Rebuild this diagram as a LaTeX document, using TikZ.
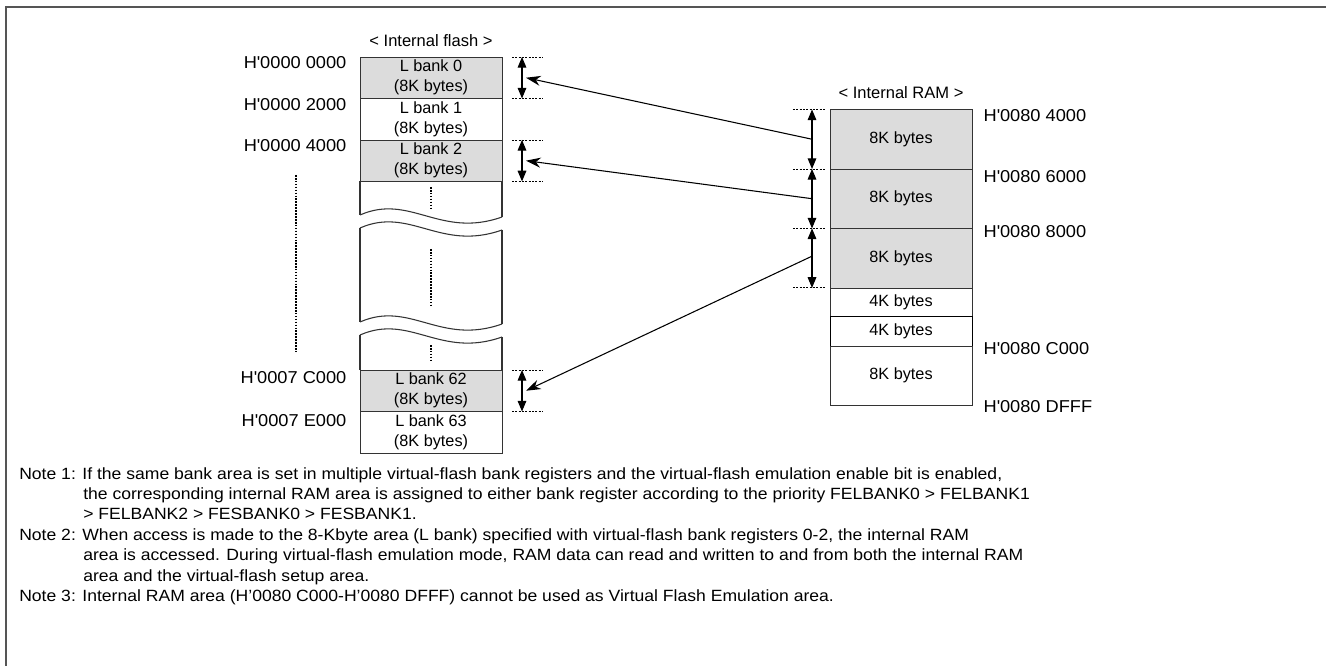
\documentclass[tikz,border=0pt]{standalone}
\usepackage{fontspec}
\setmainfont{Liberation Sans}
\newfontfamily\notefont[FakeStretch=1.08]{Liberation Sans}
\newfontfamily\addrfamily[FakeStretch=1.06]{Liberation Sans}
\usepackage{tikz}
\usetikzlibrary{arrows.meta, positioning, calc}
\definecolor{bankgray}{HTML}{DCDCDC}
\definecolor{framegray}{HTML}{555555}
\newcommand{\hq}{\textquotesingle}
\newcommand{\labelfont}{\fontsize{12.2}{15}\selectfont}
\newcommand{\addrfont}{\addrfamily\fontsize{12.9}{15}\selectfont}
\newcommand{\noteind}{\hspace*{48pt}}
\tikzset{
    bank/.style={rectangle, draw=black!80, fill=white, minimum width=106.5pt, minimum height=31.1pt, inner sep=0pt, outer sep=0pt, align=center, font=\labelfont},
    ramrow/.style={rectangle, draw=black!80, fill=white, minimum width=106.5pt, inner sep=0pt, outer sep=0pt, font=\labelfont},
    addr/.style={inner sep=0pt, font=\addrfont},
    head/.style={inner sep=0pt, font=\fontsize{12.4}{15}\selectfont},
    colline/.style={draw=black!80, line width=0.8pt},
    dots/.style={line width=1.2pt, dash pattern=on 1.2pt off 1pt},
    tick/.style={line width=0.6pt, dash pattern=on 1.5pt off 1pt},
    dim/.style={{Triangle[length=8pt,width=6.5pt]}-{Triangle[length=8pt,width=6.5pt]}, line width=0.8pt},
    maparrow/.style={-{Stealth[length=11pt,width=7.5pt]}, line width=0.8pt},
    note/.style={inner sep=0pt, align=left, font=\notefont\fontsize{12.2}{15.3}\selectfont},
    wave/.pic={\draw[colline] (0,0) .. controls (50,-22) and (80,24) .. (142,2);},
}

\begin{document}
\begin{tikzpicture}[x=0.75pt, y=-0.75pt]
    \useasboundingbox (0,0) rectangle (1326,666);
    \draw[framegray, line width=1.5pt] (6,666) -- (6,7) -- (1326,7);

    \node[bank, fill=bankgray, anchor=north] (b0) at (431,57) {L bank 0\\(8K bytes)};
    \node[bank, below=0pt of b0] (b1) {L bank 1\\(8K bytes)};
    \node[bank, fill=bankgray, below=0pt of b1] (b2) {L bank 2\\(8K bytes)};
    \node[bank, fill=bankgray, anchor=north] (b62) at (431,370) {L bank 62\\(8K bytes)};
    \node[bank, below=0pt of b62] (b63) {L bank 63\\(8K bytes)};
    \node[head, above=7.5pt of b0] (fhead) {< Internal flash >};

    \draw[colline] (b2.south west) -- ++(0,33.5) (b2.south east) -- ++(0,35.5);
    \pic at (360,215) {wave};
    \pic at (360,228) {wave};
    \draw[colline] (360,228) -- (360,322) (502,230) -- (502,324);
    \pic at (360,322) {wave};
    \pic at (360,335) {wave};
    \draw[colline] (360,335) -- (b62.north west) (502,337) -- (b62.north east);

    \draw[dots] (431,187) -- (431,209);
    \draw[dots] (431,249) -- (431,305);
    \draw[dots] (431,345) -- (431,362);
    \draw[dots] (296,175) -- (296,352);

    \node[addr, anchor=east] (a0) at ([xshift=-10pt, yshift=-4.5pt]b0.north west) {H\hq0000 0000};
    \node[addr, anchor=east] (a1) at ([xshift=-10pt, yshift=-4.5pt]b1.north west) {H\hq0000 2000};
    \node[addr, anchor=east] (a2) at ([xshift=-10pt, yshift=-4.5pt]b2.north west) {H\hq0000 4000};
    \node[addr, anchor=east] (a62) at ([xshift=-10pt, yshift=-6pt]b62.north west) {H\hq0007 C000};
    \node[addr, anchor=east] (a63) at ([xshift=-10pt, yshift=-7pt]b63.north west) {H\hq0007 E000};

    \foreach \b in {b0,b2,b62} {
        \draw[tick] ([xshift=7.5pt]\b.north east) -- ++(31,0);
        \draw[tick] ([xshift=7.5pt]\b.south east) -- ++(31,0);
        \draw[dim] ([xshift=15pt]\b.north east) -- ([xshift=15pt]\b.south east);
    }

    \node[ramrow, fill=bankgray, minimum height=44.6pt, anchor=north] (r1) at (901,109.5) {8K bytes};
    \node[ramrow, fill=bankgray, minimum height=44.6pt, below=0pt of r1] (r2) {8K bytes};
    \node[ramrow, fill=bankgray, minimum height=44.6pt, below=0pt of r2] (r3) {8K bytes};
    \node[ramrow, minimum height=21.4pt, below=0pt of r3] (r4) {4K bytes};
    \node[ramrow, draw=black, minimum height=22.5pt, below=0pt of r4] (r5) {4K bytes};
    \node[ramrow, minimum height=43.9pt, below=0pt of r5] (r6) {8K bytes};
    \node[head, above=8pt of r1] (rhead) {< Internal RAM >};

    \node[addr, anchor=west] (h1) at ([xshift=8.5pt, yshift=-4.5pt]r1.north east) {H\hq0080 4000};
    \node[addr, anchor=west] (h2) at ([xshift=8.5pt, yshift=-5.5pt]r2.north east) {H\hq0080 6000};
    \node[addr, anchor=west] (h3) at ([xshift=8.5pt, yshift=-2.5pt]r3.north east) {H\hq0080 8000};
    \node[addr, anchor=west] (h6) at ([xshift=8.5pt, yshift=-1.3pt]r6.north east) {H\hq0080 C000};
    \node[addr, anchor=west] (h7) at ([xshift=8.5pt, yshift=-1.3pt]r6.south east) {H\hq0080 DFFF};

    \foreach \r in {r1,r2,r3} {
        \draw[tick] ([xshift=-27.75pt]\r.north west) -- ++(32,0);
        \draw[dim] ([xshift=-13.5pt]\r.north west) -- ([xshift=-13.5pt]\r.south west);
    }
    \draw[tick] ([xshift=-27.75pt]r3.south west) -- ++(32,0);

    \draw[maparrow] ([xshift=-13.5pt]r1.west) -- ([xshift=18pt]b0.east);
    \draw[maparrow] ([xshift=-13.5pt]r2.west) -- ([xshift=18pt]b2.east);
    \draw[maparrow] ([xshift=-13.5pt,yshift=1.5pt]r3.west) -- ([xshift=18pt]b62.east);

    \node[note, anchor=north west] (notes) at (19,467) {Note 1: If the same bank area is set in multiple virtual-flash bank registers and the virtual-flash emulation enable bit is enabled,\\
        \noteind the corresponding internal RAM area is assigned to either bank register according to the priority FELBANK0 > FELBANK1\\
        \noteind > FELBANK2 > FESBANK0 > FESBANK1.\\
        Note 2: When access is made to the 8-Kbyte area (L bank) specified with virtual-flash bank registers 0-2, the internal RAM\\
        \noteind area is accessed. During virtual-flash emulation mode, RAM data can read and written to and from both the internal RAM\\
        \noteind area and the virtual-flash setup area.\\
        Note 3: Internal RAM area (H’0080 C000-H’0080 DFFF) cannot be used as Virtual Flash Emulation area.};
\end{tikzpicture}
\end{document}
